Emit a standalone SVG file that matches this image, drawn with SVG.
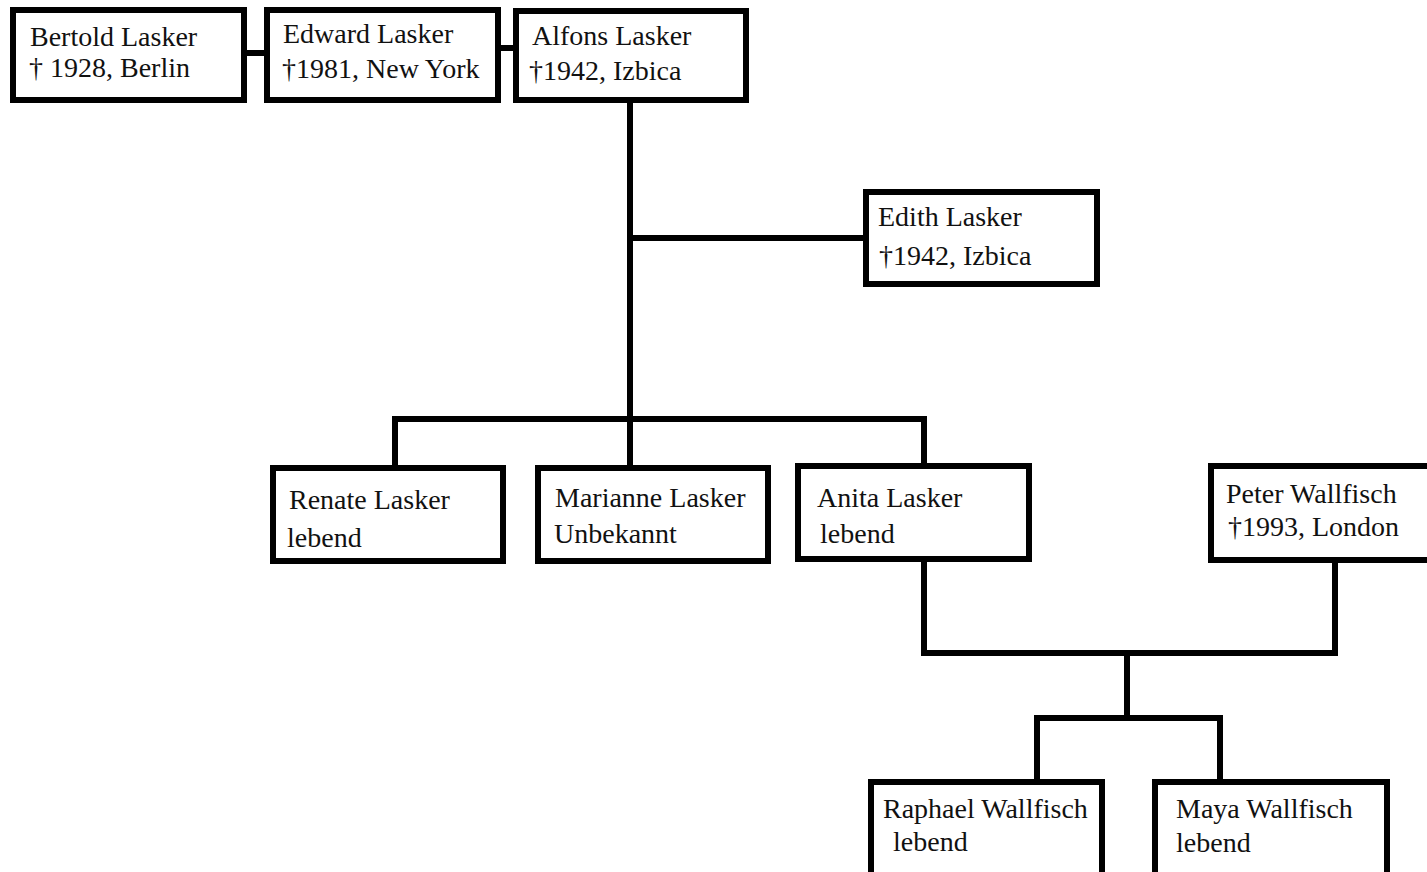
<svg xmlns="http://www.w3.org/2000/svg" width="1427" height="872" viewBox="0 0 1427 872">
<style>
.box{fill:#fff;stroke:#000;stroke-width:6}
.ln{fill:none;stroke:#000;stroke-width:6}
.t{font-family:'Liberation Serif','Times New Roman',Times,'DejaVu Serif',serif;font-size:28px;fill:#111}
</style>
<rect width="1427" height="872" fill="#fff"/>
<g id="connectors">
<line class="ln" x1="244" y1="53" x2="268" y2="53"/>
<line class="ln" x1="495" y1="48" x2="517" y2="48"/>
<line class="ln" x1="630" y1="100" x2="630" y2="475"/>
<line class="ln" x1="627" y1="238" x2="866" y2="238"/>
<polyline class="ln" points="395,468 395,419 924,419 924,468"/>
<polyline class="ln" points="924,559 924,653 1335,653 1335,560"/>
<line class="ln" x1="1127" y1="650" x2="1127" y2="718"/>
<polyline class="ln" points="1037,782 1037,718 1220,718 1220,782"/>
</g>
<g id="bertold"><rect class="box" x="13" y="10" width="231" height="90"/><text class="t" x="30" y="46">Bertold Lasker</text><text class="t" x="29" y="77">† 1928, Berlin</text></g>
<g id="edward"><rect class="box" x="267" y="10" width="231" height="90"/><text class="t" x="283" y="43">Edward Lasker</text><text class="t" x="282" y="78">†1981, New York</text></g>
<g id="alfons"><rect class="box" x="516" y="11" width="230" height="89"/><text class="t" x="532" y="45">Alfons Lasker</text><text class="t" x="529" y="80">†1942, Izbica</text></g>
<g id="edith"><rect class="box" x="866" y="192" width="231" height="92"/><text class="t" x="878" y="226">Edith Lasker</text><text class="t" x="879" y="265">†1942, Izbica</text></g>
<g id="renate"><rect class="box" x="273" y="468" width="230" height="93"/><text class="t" x="289" y="509">Renate Lasker</text><text class="t" x="287" y="547">lebend</text></g>
<g id="marianne"><rect class="box" x="538" y="468" width="230" height="93"/><text class="t" x="555" y="507">Marianne Lasker</text><text class="t" x="554" y="543">Unbekannt</text></g>
<g id="anita"><rect class="box" x="798" y="466" width="231" height="93"/><text class="t" x="817" y="507">Anita Lasker</text><text class="t" x="820" y="543">lebend</text></g>
<g id="peter"><rect class="box" x="1211" y="466" width="232" height="94"/><text class="t" x="1226" y="503">Peter Wallfisch</text><text class="t" x="1228" y="536">†1993, London</text></g>
<g id="raphael"><rect class="box" x="871" y="782" width="231" height="96"/><text class="t" x="883" y="818">Raphael Wallfisch</text><text class="t" x="893" y="851">lebend</text></g>
<g id="maya"><rect class="box" x="1155" y="782" width="232" height="96"/><text class="t" x="1176" y="818">Maya Wallfisch</text><text class="t" x="1176" y="852">lebend</text></g>
</svg>
